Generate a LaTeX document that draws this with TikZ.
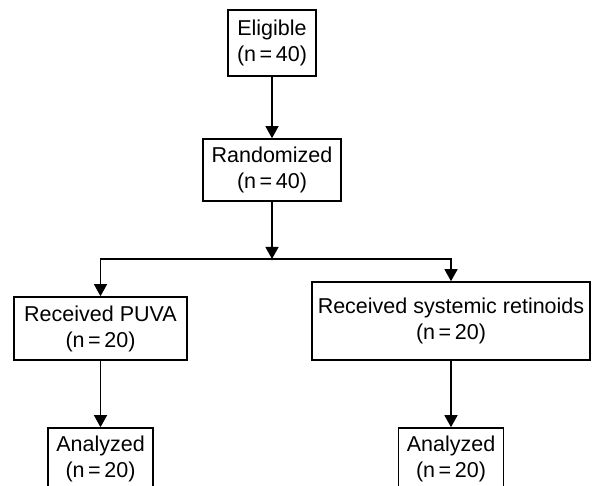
\documentclass[tikz,border=0pt]{standalone}
\usepackage{fontspec}
\setmainfont{Liberation Sans}
\usepackage{tikz}
\usetikzlibrary{arrows.meta, positioning}

\begin{document}
\begin{tikzpicture}[x=1pt, y=-1pt,
    box/.style={draw, line width=1.6pt, align=center, inner sep=0pt,
      font=\fontsize{21.5}{26}\selectfont},
    arr/.style={line width=1.3pt, -{Triangle[width=13pt, length=12pt]}}]
  \useasboundingbox (0,0) rectangle (592,486);
  \node[box, minimum width=88pt, minimum height=66pt] (eligible) at (272,43) {Eligible\\(n\,=\,40)};
  \node[box, minimum width=138pt, minimum height=62pt] (random) at (272,170) {Randomized\\(n\,=\,40)};
  \node[box, minimum width=173pt, minimum height=63pt] (puva) at (100.5,328.5) {Received PUVA\\(n\,=\,20)};
  \node[box, minimum width=278pt, minimum height=78pt] (retin) at (451,321) {Received systemic retinoids\\(n\,=\,20)};
  \node[box, minimum width=105pt, minimum height=62pt] (anpuva) at (100.5,459) {Analyzed\\(n\,=\,20)};
  \node[box, minimum width=105pt, minimum height=62pt] (anretin) at (451,459) {Analyzed\\(n\,=\,20)};
  % split point under the randomization
  \coordinate (split) at (272,259);
  \draw[arr] (eligible) -- (random);
  \draw[arr] (random) -- (split);
  \draw[arr] (split) -| (puva);
  \draw[arr] (split) -| (retin);
  \draw[arr] (puva) -- (anpuva);
  \draw[arr] (retin) -- (anretin);
\end{tikzpicture}
\end{document}
